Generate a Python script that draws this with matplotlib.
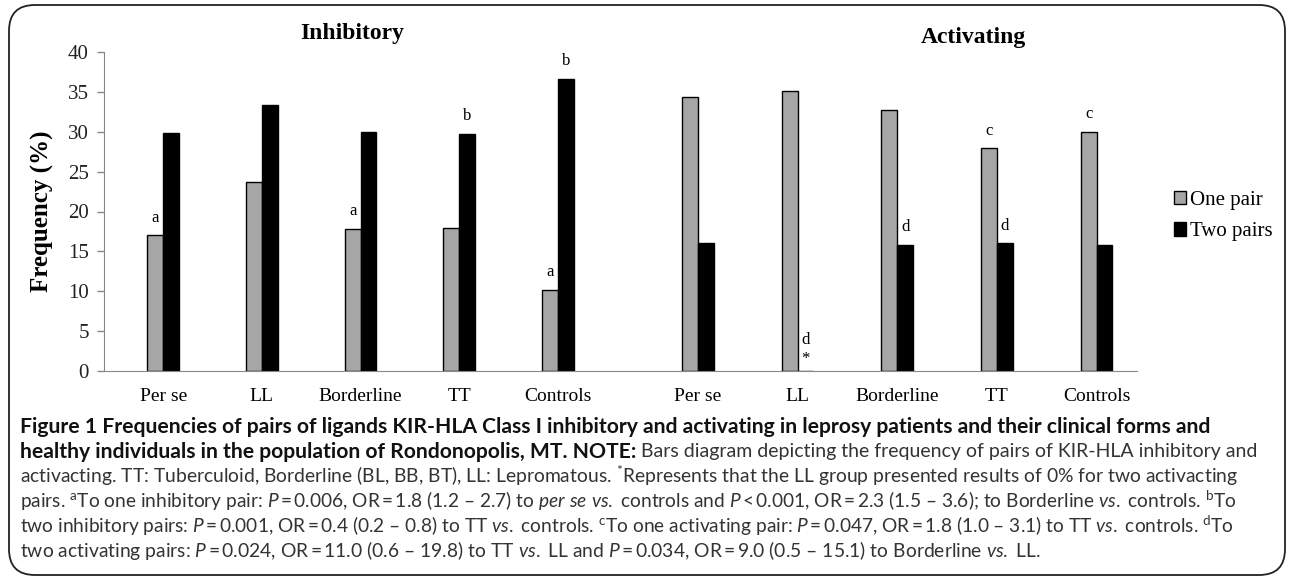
import numpy as np
import matplotlib.pyplot as plt
from matplotlib.patches import FancyBboxPatch, Patch

plt.rcParams['mathtext.fontset'] = 'custom'
plt.rcParams['mathtext.rm'] = 'Lato'
plt.rcParams['mathtext.it'] = 'Lato:italic'
plt.rcParams['mathtext.bf'] = 'Lato:bold'

categories = ['Per se', 'LL', 'Borderline', 'TT', 'Controls']
groups = ['Inhibitory', 'Activating']

inhib_one = [17.0, 23.7, 17.8, 17.9, 10.2]
inhib_two = [29.9, 33.3, 30.0, 29.7, 36.6]
activ_one = [34.3, 35.1, 32.7, 27.9, 30.0]
activ_two = [16.0, 0.0, 15.8, 16.0, 15.8]

# significance marks: (group, category index, series, label)
marks = [('inh', 0, 'one', 'a'), ('inh', 2, 'one', 'a'), ('inh', 4, 'one', 'a'),
         ('inh', 3, 'two', 'b'), ('inh', 4, 'two', 'b'),
         ('act', 3, 'one', 'c'), ('act', 4, 'one', 'c'),
         ('act', 2, 'two', 'd'), ('act', 3, 'two', 'd')]

eq = '\u2009=\u2009'
cap_bold = [
    "Figure 1 Frequencies of pairs of ligands KIR-HLA Class I inhibitory and activating in leprosy patients and their clinical forms and",
    "healthy individuals in the population of Rondonopolis, MT. NOTE:",
]
cap_rest = [
    " Bars diagram depicting the frequency of pairs of KIR-HLA inhibitory and",
    r"activacting. TT: Tuberculoid, Borderline (BL, BB, BT), LL: Lepromatous. $^{*}$Represents that the LL group presented results of 0% for two activacting",
    r"pairs. $^{\mathrm{a}}$To one inhibitory pair: $\it{P}$" + eq + r"0.006, OR" + eq + r"1.8 (1.2 – 2.7) to $\it{per\ se\ vs.}$ controls and $\it{P}$" + '\u2009<\u2009' + r"0.001, OR" + eq + r"2.3 (1.5 – 3.6); to Borderline $\it{vs.}$ controls. $^{\mathrm{b}}$To",
    r"two inhibitory pairs: $\it{P}$" + eq + r"0.001, OR" + eq + r"0.4 (0.2 – 0.8) to TT $\it{vs.}$ controls. $^{\mathrm{c}}$To one activating pair: $\it{P}$" + eq + r"0.047, OR" + eq + r"1.8 (1.0 – 3.1) to TT $\it{vs.}$ controls. $^{\mathrm{d}}$To",
    r"two activating pairs: $\it{P}$" + eq + r"0.024, OR" + eq + r"11.0 (0.6 – 19.8) to TT $\it{vs.}$ LL and $\it{P}$" + eq + r"0.034, OR" + eq + r"9.0 (0.5 – 15.1) to Borderline $\it{vs.}$ LL.",
]
cap_sizes = [14, 13.9, 13.8, 13.8, 13.9]

W, H = 1292, 583
fig = plt.figure(figsize=(W / 100, H / 100), dpi=100)
ax = fig.add_axes([104 / W, 1 - 371 / H, (1137 - 104) / W, (371 - 52) / H])

serif = 'Liberation Serif'
sans = ['Lato', 'DejaVu Sans']
gray = '#a6a6a6'
bw = 0.16

x_inh = np.arange(5, dtype=float)
x_act = 5.42 + np.arange(5) * 1.01

ax.bar(x_inh - bw / 2, inhib_one, bw, color=gray, edgecolor='black', linewidth=1)
ax.bar(x_inh + bw / 2, inhib_two, bw, color='black', edgecolor='black', linewidth=1)
ax.bar(x_act - bw / 2, activ_one, bw, color=gray, edgecolor='black', linewidth=1)
ax.bar(x_act + bw / 2, activ_two, bw, color='black', edgecolor='black', linewidth=1)

data = {('inh', 'one'): (x_inh - bw / 2, inhib_one), ('inh', 'two'): (x_inh + bw / 2, inhib_two),
        ('act', 'one'): (x_act - bw / 2, activ_one), ('act', 'two'): (x_act + bw / 2, activ_two)}
for g, i, s, lab in marks:
    xs, ys = data[(g, s)]
    ax.annotate(lab, xy=(xs[i], ys[i]), xytext=(0, 7), textcoords='offset points',
                ha='center', va='bottom', fontsize=12, family=serif)
# LL activating: two pairs = 0%
xs, ys = data[('act', 'two')]
ax.text(xs[1], 3.9, 'd', ha='center', va='center', fontsize=12, family=serif)
ax.text(xs[1], 1.5, '*', ha='center', va='center', fontsize=12, family=serif)

ax.set_xlim(-0.6, 9.87)
ax.set_ylim(0, 40)
ax.set_yticks(range(0, 41, 5))
ax.set_yticklabels([str(v) for v in range(0, 41, 5)], family=serif, fontsize=15, color='#222222')
ax.set_xticks(list(x_inh) + list(x_act))
ax.set_xticklabels(categories + categories, family=serif, fontsize=14)
ax.tick_params(axis='x', length=0, pad=12)
ax.tick_params(axis='y', length=5, color='#888888', width=1, pad=6)
for side in ['top', 'right']:
    ax.spines[side].set_visible(False)
ax.spines['left'].set_color('#888888')
ax.spines['bottom'].set_color('#888888')
ax.set_ylabel('Frequency (%)', family=serif, fontsize=18, fontweight='bold', labelpad=10)

fig.text(352 / W, 1 - 33 / H, 'Inhibitory', family=serif, fontsize=17, fontweight='bold',
         ha='center', va='center')
fig.text(973 / W, 1 - 37 / H, 'Activating', family=serif, fontsize=17, fontweight='bold',
         ha='center', va='center')

handles = [Patch(facecolor=gray, edgecolor='black', linewidth=1), Patch(facecolor='black', edgecolor='black')]
fig.legend(handles, ['One pair', 'Two pairs'], loc='center left', bbox_to_anchor=(1155 / W, 1 - 216 / H),
           frameon=False, prop={'family': serif, 'size': 15}, handlelength=0.6, handleheight=0.6,
           handletextpad=0.2, labelspacing=0.6)

# caption
y0, dy = 427, 24.6
x0 = 20 / W
ypos = [1 - (y0 + k * dy) / H for k in range(6)]
fig.text(x0, ypos[0], cap_bold[0], fontsize=15.2, family=sans, fontweight='bold',
         color='#111111', ha='left', va='center')
t2 = fig.text(x0, ypos[1], cap_bold[1], fontsize=15.2, family=sans, fontweight='bold',
              color='#111111', ha='left', va='center')
renderer = fig.canvas.get_renderer()
x_end = fig.transFigure.inverted().transform(t2.get_window_extent(renderer).get_points())[1, 0]
fig.text(x_end, ypos[1], cap_rest[0], fontsize=cap_sizes[0], family=sans, color='#333333',
         ha='left', va='center')
for k, line in enumerate(cap_rest[1:]):
    fig.text(x0, ypos[k + 2], line, fontsize=cap_sizes[k + 1], family=sans, color='#333333',
             ha='left', va='center')

box = FancyBboxPatch((9 / W, 8 / H), (1285 - 9) / W, (578 - 8) / H,
                     boxstyle='round,pad=0,rounding_size=0.02', transform=fig.transFigure,
                     facecolor='none', edgecolor='#222222', linewidth=1.3, mutation_aspect=W / H)
fig.patches.append(box)

fig.savefig('out.png', dpi=100)
